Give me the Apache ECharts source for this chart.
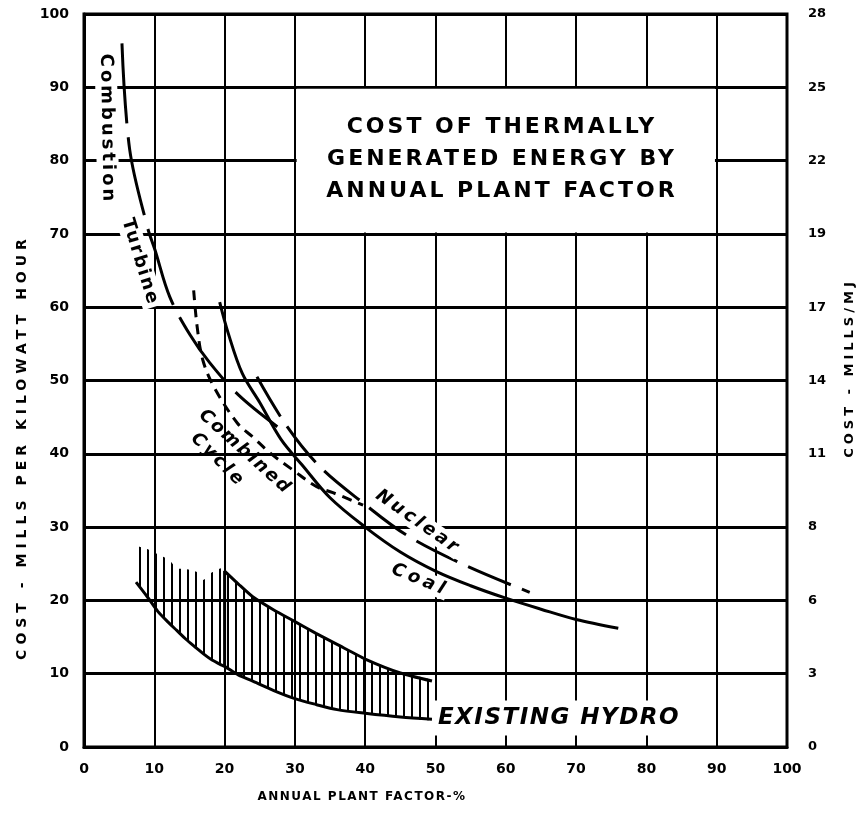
<!DOCTYPE html>
<html><head><meta charset="utf-8">
<script src="https://cdn.jsdelivr.net/npm/echarts@6/dist/echarts.min.js"></script>
<style>html,body{margin:0;padding:0;background:#fff}#c{width:858px;height:813px}</style>
</head><body><div id="c"></div>
<script>
// ---------- data ----------
const xTickLabels = ['0','10','20','30','40','50','60','70','80','90','100'];
const leftTickLabels = ['0','10','20','30','40','50','60','70','80','90','100'];
const rightTickLabels = ['0','3','6','8','11','14','17','19','22','25','28'];

const turbineX = [5.4, 6.5, 9.0, 10.1, 12.2, 15.1, 17.9, 22.0, 27.5];
const turbineY = [96.0, 81.5, 71.0, 67.8, 61.4, 56.2, 52.4, 48.0, 43.7];

const combinedX = [15.6, 16.1, 16.9, 18.5, 21.8, 24.0, 26.5, 29.7, 33.1, 35.4, 39.7];
const combinedY = [62.3, 57.3, 52.8, 49.1, 44.2, 42.3, 40.1, 37.8, 35.5, 34.7, 33.0];

const nuclearX = [24.6, 28.9, 33.6, 39.7, 45.9, 54.2, 63.4];
const nuclearY = [50.5, 43.7, 38.2, 33.3, 28.9, 24.8, 21.1];

const coalX = [19.3, 20.5, 22.5, 25, 28, 31, 35, 40, 45, 50, 55, 60, 65, 70, 76];
const coalY = [60.7, 56.5, 51.0, 47.0, 42.0, 38.5, 34.0, 30.0, 26.6, 24.0, 22.0, 20.3, 18.8, 17.4, 16.2];

const hydroX    = [7.4, 9, 10.5, 12, 13.2, 14.5, 16, 17, 18, 19.5, 20, 22, 24, 27, 30, 33, 36, 40, 45, 49.5];
const hydroHigh = [27.3, 27.0, 26.3, 25.6, 24.4, 24.3, 23.9, 22.8, 23.7, 24.4, 24.0, 22.2, 20.5, 18.7, 17.1, 15.5, 14.0, 12.0, 10.1, 9.0];
const hydroLow  = [22.5, 20.5, 18.5, 17.0, 15.9, 14.7, 13.5, 12.7, 12.0, 11.2, 11.0, 9.8, 9.0, 7.7, 6.6, 5.8, 5.1, 4.6, 4.1, 3.8];

// ---------- letter spacing for scanned-style lettering ----------
const SPACING = {
  'COST OF THERMALLY': 3, 'GENERATED ENERGY BY': 3, 'ANNUAL PLANT FACTOR': 3,
  'COST - MILLS PER KILOWATT HOUR': 5, 'ANNUAL PLANT FACTOR-%': 1.5, 'COST - MILLS/MJ': 4,
  'Turbine': 2, 'Combined': 2, 'Cycle': 3, 'Nuclear': 3, 'Coal': 4, 'EXISTING HYDRO': 1.5
};
(function () {
  const P = CanvasRenderingContext2D.prototype;
  const orig = P.fillText;
  P.fillText = function (t, x, y, m) {
    const s = SPACING[t];
    const call = () => (m === undefined ? orig.call(this, t, x, y) : orig.call(this, t, x, y, m));
    if (s !== undefined && 'letterSpacing' in this) {
      const prev = this.letterSpacing;
      this.letterSpacing = s + 'px';
      const r = call();
      this.letterSpacing = prev;
      return r;
    }
    return call();
  };
})();

const zip = (xs, ys) => xs.map((x, i) => [x, ys[i]]);

const hatch = document.createElement('canvas');
hatch.width = 8; hatch.height = 8;
const hc = hatch.getContext('2d');
hc.fillStyle = '#000';
hc.fillRect(3, 0, 2, 8);

const F = 'DejaVu Sans';
const i20 = hydroX.indexOf(20);
const upperOutline = [[20, hydroLow[i20]]].concat(zip(hydroX.slice(i20), hydroHigh.slice(i20)));

function lbl(text, x, y, rotDeg, font, pad, lh) {
  return {
    type: 'text', x: x, y: y, rotation: rotDeg * Math.PI / 180, z: 100,
    style: {
      text: text, font: font, fill: '#000',
      align: 'center', verticalAlign: 'middle',
      textAlign: 'center', textVerticalAlign: 'middle',
      lineHeight: lh || undefined,
      backgroundColor: pad ? '#fff' : null, padding: pad || 0
    }
  };
}

const chart = echarts.init(document.getElementById('c'), null, { renderer: 'canvas' });
const axisLabelStyle = { color: '#000', fontFamily: F, fontWeight: 'bold', fontSize: 14 };

chart.setOption({
  animation: false,
  backgroundColor: '#fff',
  grid: { left: 84, right: 71, top: 14, bottom: 66, show: true, borderColor: '#000', borderWidth: 3 },
  xAxis: {
    type: 'value', min: 0, max: 100, interval: 10,
    axisLine: { show: true, lineStyle: { color: '#000', width: 3 } },
    axisTick: { show: false },
    splitLine: { show: true, lineStyle: { color: '#000', width: 2 } },
    axisLabel: Object.assign({ margin: 15, formatter: v => xTickLabels[Math.round(v / 10)] }, axisLabelStyle)
  },
  yAxis: [{
    type: 'value', min: 0, max: 100, interval: 10, position: 'left',
    axisLine: { show: true, lineStyle: { color: '#000', width: 3 } },
    axisTick: { show: false },
    splitLine: { show: true, lineStyle: { color: '#000', width: 3 } },
    axisLabel: Object.assign({ margin: 15, formatter: v => leftTickLabels[Math.round(v / 10)] }, axisLabelStyle)
  }, {
    type: 'value', min: 0, max: 100, interval: 10, position: 'right',
    axisLine: { show: false }, axisTick: { show: false }, splitLine: { show: false },
    axisLabel: Object.assign({ margin: 21, formatter: v => rightTickLabels[Math.round(v / 10)] }, axisLabelStyle, { fontSize: 13 })
  }],
  series: [
    {
      type: 'custom', silent: true, z: 2, data: [[0, 0]],
      renderItem: function (params, api) {
        const pts = [];
        for (let i = 0; i < hydroX.length; i++) pts.push(api.coord([hydroX[i], hydroHigh[i]]));
        for (let i = hydroX.length - 1; i >= 0; i--) pts.push(api.coord([hydroX[i], hydroLow[i]]));
        return { type: 'polygon', shape: { points: pts, smooth: 0.2 },
          style: { fill: { type: 'pattern', image: hatch, repeat: 'repeat' }, stroke: null } };
      }
    },
    { name: 'Hydro low', type: 'line', data: zip(hydroX, hydroLow), smooth: 0.3, symbol: 'none', z: 3,
      lineStyle: { color: '#000', width: 3 } },
    { name: 'Hydro high', type: 'line', data: upperOutline, smooth: 0.2, symbol: 'none', z: 3,
      lineStyle: { color: '#000', width: 3 } },
    { name: 'Combustion Turbine', type: 'line', data: zip(turbineX, turbineY), smooth: 0.35, symbol: 'none', z: 3,
      lineStyle: { color: '#000', width: 3, type: [80, 14] } },
    { name: 'Combined Cycle', type: 'line', data: zip(combinedX, combinedY), smooth: 0.35, symbol: 'none', z: 3,
      lineStyle: { color: '#000', width: 3, type: [10, 7] } },
    { name: 'Nuclear', type: 'line', data: zip(nuclearX, nuclearY), smooth: 0.35, symbol: 'none', z: 3,
      lineStyle: { color: '#000', width: 3, type: [46, 12] } },
    { name: 'Coal', type: 'line', data: zip(coalX, coalY), smooth: 0.35, symbol: 'none', z: 3,
      lineStyle: { color: '#000', width: 3 },
      markArea: { silent: true, itemStyle: { color: '#fff', opacity: 1 },
        data: [[{ coord: [30.25, 89.8] }, { coord: [89.75, 70.2] }]] } }
  ],
  graphic: [
    lbl('COST OF THERMALLY\nGENERATED ENERGY BY\nANNUAL PLANT FACTOR', 502, 159, 0, 'bold 22px ' + F, null, 32),
    lbl('COST - MILLS PER KILOWATT HOUR', 22, 447, 90, 'bold 14px ' + F),
    lbl('ANNUAL PLANT FACTOR-%', 362, 797, 0, 'bold 12px ' + F),
    lbl('COST - MILLS/MJ', 850, 368, 90, 'bold 13px ' + F),
    lbl('Combustion', 107, 129, -89, 'bold 18px ' + F, [2, 4]),
    lbl('Turbine', 140, 262, -73, 'bold 18px ' + F, [2, 9]),
    lbl('Combined', 245, 452, -42, 'bold italic 18px ' + F),
    lbl('Cycle', 218, 460, -45, 'bold italic 18px ' + F),
    lbl('Nuclear', 418, 522, -35, 'bold italic 18px ' + F, [1, 12]),
    lbl('Coal', 420, 580, -22, 'bold italic 18px ' + F, [1, 8]),
    lbl('EXISTING HYDRO', 559, 718, 0, 'bold italic 23px ' + F, [6, 14])
  ]
});
</script>
</body></html>
